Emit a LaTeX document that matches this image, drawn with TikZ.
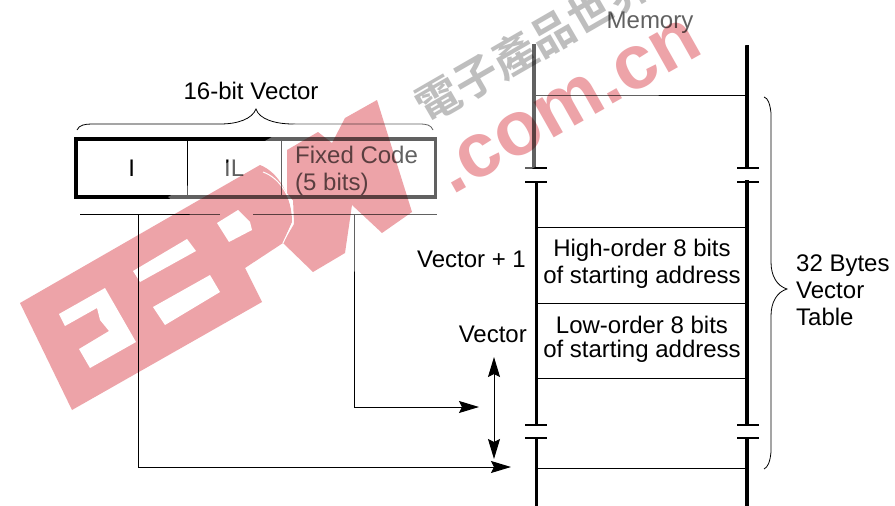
\documentclass[tikz,border=0pt]{standalone}
\usepackage{fontspec}
\setmainfont{Liberation Sans}
\newfontfamily\cjkwm{Noto Sans CJK TC}[BoldFont={* Bold}]
\usetikzlibrary{arrows.meta}
\definecolor{wmred}{HTML}{EDA3A8}
\definecolor{wmgrey}{HTML}{BEBEBE}
\tikzset{
  lbl/.style={inner sep=0pt,font=\fontsize{24}{27}\selectfont,text=black},
  cell/.style={draw=none,inner sep=0pt,minimum height=58pt,anchor=west},
  rail/.style={line width=3.6pt,black},
  tick/.style={line width=1.1pt,black},
  hline/.style={line width=1.2pt,black},
  thinb/.style={line width=.8pt,black},
  conn/.style={line width=1pt,black},
  tip/.style={-{Stealth[length=20pt,width=12pt,inset=3pt]}},
  wmark/.style={inner sep=0pt,text=wmred},
}
\begin{document}
\begin{tikzpicture}[x=1pt,y=-1pt]
\useasboundingbox (0,0) rectangle (895,506);
\fill[white] (0,0) rectangle (895,506);
% vector box
\node[cell,minimum width=111pt] (cI) at (76,168) {};
\node[cell,minimum width=94pt] (cIL) at (187,168) {};
\node[cell,minimum width=154pt] (cFC) at (281,168) {};
\node[lbl] (tI) at (cI.center) {I};
\node[lbl] (tIL) at (cIL.center) {IL};
\node[lbl,align=left,anchor=north west] (tFC) at (295,145.5) {Fixed Code\\(5 bits)};
\draw[line width=3.6pt,black] (cI.north west) rectangle (cFC.south east);
\draw[conn] (cI.north east) -- (cI.south east);
\draw[conn] (cIL.north east) -- (cIL.south east);
\node[lbl] (vt) at (251,91) {16-bit Vector};
% brace above box
\draw[thinb] (77,130) .. controls (79,125) and (85,124) .. (92,124) -- (220,124)
  .. controls (238,124) and (252,119) .. (256,109)
  .. controls (259,119) and (275,124) .. (293,124) -- (419,124)
  .. controls (427,124) and (431,125) .. (433,130);
% line under box
\coordinate (ua) at (80,214); \coordinate (ub) at (220,214);
\coordinate (uc) at (253,214); \coordinate (ud) at (437,214);
\draw[conn] (ua) -- (ub); \draw[conn] (uc) -- (ud);
% memory
\node[lbl] (mem) at (650,23) {Memory};
\coordinate (lt) at (534,44); \coordinate (lb1) at (534,168);
\coordinate (lm1) at (536.5,182); \coordinate (lm2) at (536.5,425);
\coordinate (lr) at (536.5,438); \coordinate (lend) at (536.5,506);
\coordinate (rt) at (747,45); \coordinate (rb1) at (747,169);
\coordinate (rm1) at (747,180); \coordinate (rm2) at (747,426);
\coordinate (rr) at (747,437); \coordinate (rend) at (747,506);
\draw[rail] (lt) -- (lb1); \draw[rail] (lm1) -- (lm2); \draw[rail] (lr) -- (lend);
\draw[rail] (rt) -- (rb1); \draw[rail] (rm1) -- (rm2); \draw[rail] (rr) -- (rend);
\foreach \y in {168,182,425,438}{
  \draw[tick] (525,\y) -- (547,\y);
  \draw[tick] (737,\y) -- (759,\y);
}
\draw[hline] (535,95.5) -- (747,95.5);
\node[inner sep=0pt,minimum width=210pt,minimum height=75pt] (hi) at (642,265.5) {};
\node[inner sep=0pt,minimum width=210pt,minimum height=75pt] (lo) at (642,340.5) {};
\draw[hline] (hi.north west) -- (hi.north east);
\draw[hline] (hi.south west) -- (hi.south east);
\draw[hline] (lo.south west) -- (lo.south east);
\draw[hline] (537,468.5) -- (749,468.5);
\node[lbl] (h1) at (642,250.5) {High-order 8 bits};
\node[lbl] (h2) at (642,277) {of starting address};
\node[lbl] (l1) at (642,324.5) {Low-order 8 bits};
\node[lbl] (l2) at (642,351) {of starting address};
\node[lbl,anchor=east] (v1) at (526,259) {Vector + 1};
\node[lbl,anchor=east] (v0) at (527,334) {Vector};
% right brace
\draw[thinb] (764,97) .. controls (768,98) and (770,104) .. (771,113) -- (771,262)
  .. controls (771,276) and (777,286) .. (787,289)
  .. controls (777,292) and (771,302) .. (771,316) -- (771,452)
  .. controls (770,462) and (768,467) .. (764,469);
\node[lbl,align=left,anchor=west] (bt) at (796,290) {32 Bytes\\Vector\\Table};
% connectors
\coordinate (f1) at (354,214); \coordinate (f1e) at (354,407); \coordinate (f1t) at (479,407);
\coordinate (f2) at (138,214); \coordinate (f2e) at (138,467); \coordinate (f2t) at (511,467);
\coordinate (da) at (494,357); \coordinate (db) at (494,459);
\draw[conn] (f1) -- (f1e); \draw[conn,tip] (f1e) -- (f1t);
\draw[conn] (f2) -- (f2e); \draw[conn,tip] (f2e) -- (f2t);
\draw[conn,{Stealth[length=20pt,width=12pt,inset=3pt]}-{Stealth[length=20pt,width=12pt,inset=3pt]}] (da) -- (db);
% watermark layer
\fill[white,opacity=.38] (168,197) -- (509,0) -- (824,0) -- (535,167) -- (300,303) -- cycle;
\begin{scope}[blend mode=multiply,transparency group]
% block letters E E P
\fill[wmred] (20,303) -- (260,165) .. controls (278,172) and (292,195) .. (292,222)
  -- (283,243) -- (245,268) -- (262,302) -- (72,410) -- cycle;
% W
\fill[wmred] (287,150) -- (318,132) -- (332,143) -- (345,118) -- (377,100) -- (412,212)
  -- (382,233) -- (352,205) -- (345,253) -- (313,272) -- (283,243) -- (294,224) -- (293,199)
  -- (303,213) -- (287,193) -- cycle;
% counters
\fill[white] (59,314) -- (105,288) -- (136,342) -- (90,368) -- (79,349) -- (109,331)
  -- (100,320) -- (97,308) -- (65,326) -- cycle;
\fill[white] (153,307) -- (210,275) -- (220,292) -- (165,325) -- cycle;
\fill[white] (133,271) -- (187,239) -- (196,251) -- (140,282) -- cycle;
\fill[white] (217,223) -- (238,210) -- (250,222) -- (252,230) -- (229,242) -- cycle;
\draw[white,line width=1pt] (263,172) .. controls (280,178) and (293,198) .. (293,222) -- (283,243);
\node[wmark,rotate=29.4,font=\fontsize{77}{77}\bfseries\selectfont] (wm2) at (569,106) {.com.cn};
\node[inner sep=0pt,rotate=30,text=wmgrey,font=\fontsize{44}{44}\cjkwm\bfseries\selectfont] (wm3) at (533,44) {電子產品世界};
\end{scope}
\end{tikzpicture}
\end{document}
